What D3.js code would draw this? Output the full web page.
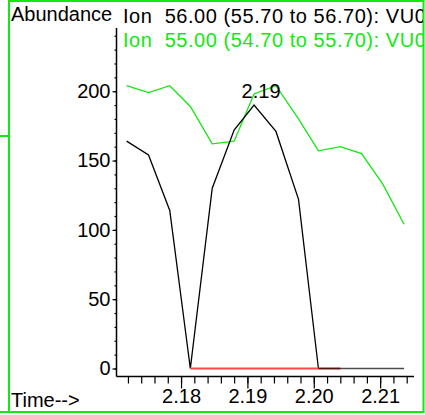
<!DOCTYPE html>
<html><head><meta charset="utf-8">
<script src="https://cdn.jsdelivr.net/npm/d3@7"></script>
<style>
html,body{margin:0;padding:0;background:#fff;overflow:hidden}
svg{display:block;font-family:"Liberation Sans",Arial,sans-serif}
</style></head><body>
<svg id="chart" width="425" height="415"></svg>
<script>
// Extracted ion chromatogram data (retention time in minutes)
const scanTimes = [2.1718, 2.1751, 2.1783, 2.1814, 2.1847, 2.1880, 2.1910, 2.1943, 2.1977, 2.2007, 2.2040, 2.2072, 2.2104, 2.2136];
const ion56 = [164, 154, 114, 0, 130, 172, 190, 171, 122, 0, 0, 0, 0, 0];
const ion55 = [204, 199, 204, 189, 162, 164, 198, 204, 180, 157, 160, 155, 133, 104];
const traceTitles = ["Ion  56.00 (55.70 to 56.70): VU0", "Ion  55.00 (54.70 to 55.70): VU0"];
const yTicks = [0, 50, 100, 150, 200];
const xTickLabels = ["2.18", "2.19", "2.20", "2.21"];
const peakIndex = 6;           // apex of the integrated peak on ion 56
const baselineIdx = [3, 10];   // integration baseline start / end scans

const svg = d3.select("#chart");
const GREEN = "#12e812";
const FONT = 20;

const x = d3.scaleLinear().domain([2.1702, 2.2151]).range([116, 414]);
const y = d3.scaleLinear().domain([0, 245.6]).range([368.5, 28]);
const axisY = 376.5, axisX = 116.5;

// outer frame
const frame = svg.append("g").attr("stroke", GREEN).attr("stroke-width", 2).attr("fill", "none");
frame.append("path").attr("d", "M9,412 V1 H423.5 V412 H9");
frame.append("line").attr("x1", 0).attr("x2", 9).attr("y1", 136).attr("y2", 136);
frame.append("line").attr("x1", 0).attr("x2", 9).attr("y1", 412).attr("y2", 412);

// y axis
const yMinor = svg.append("g").attr("transform", `translate(${axisX},0)`)
  .call(d3.axisLeft(y).tickValues(d3.range(0, 241, 10)).tickSize(2).tickFormat(""));
const yMajor = svg.append("g").attr("transform", `translate(${axisX},0)`)
  .call(d3.axisLeft(y).tickValues(yTicks).tickSize(4).tickPadding(2).tickFormat(d3.format("d")));
[yMinor, yMajor].forEach(g => g.select(".domain").remove());
yMajor.selectAll("text").attr("font-size", FONT).attr("font-family", "Liberation Sans, Arial").attr("fill", "#000");

// x axis
const xMinor = svg.append("g").attr("transform", `translate(0,${axisY})`)
  .call(d3.axisBottom(x).tickValues(d3.range(2.172, 2.2145, 0.002)).tickSize(7).tickFormat(""));
const xMajor = svg.append("g").attr("transform", `translate(0,${axisY})`)
  .call(d3.axisBottom(x).tickValues(xTickLabels.map(Number)).tickSize(12).tickPadding(4)
    .tickFormat((d, i) => xTickLabels[i]));
[xMinor, xMajor].forEach(g => g.select(".domain").remove());
xMajor.selectAll("text").attr("font-size", FONT).attr("font-family", "Liberation Sans, Arial").attr("fill", "#000")
  .attr("dy", "0.5em");
svg.selectAll(".tick line").attr("stroke", "#000").attr("stroke-width", 1.2);

// axis lines
svg.append("line").attr("x1", axisX).attr("x2", axisX).attr("y1", 28).attr("y2", axisY)
  .attr("stroke", "#000").attr("stroke-width", 1.5);
svg.append("line").attr("x1", axisX).attr("x2", 414).attr("y1", axisY).attr("y2", axisY)
  .attr("stroke", "#000").attr("stroke-width", 1.5);

// traces
const line = d3.line().x(d => x(d[0])).y(d => y(d[1]));
const pts56 = scanTimes.map((t, i) => [t, ion56[i]]);
const pts55 = scanTimes.map((t, i) => [t, ion55[i]]);

svg.append("path").attr("d", line(pts55)).attr("fill", "none").attr("stroke", GREEN).attr("stroke-width", 1.3);
svg.append("path").attr("d", line(pts56.slice(0, baselineIdx[1]))).attr("fill", "none")
  .attr("stroke", "#000").attr("stroke-width", 1.3);

// integration baseline
svg.append("path").attr("d", line([pts56[baselineIdx[0]], pts56[baselineIdx[1]]]))
  .attr("fill", "none").attr("stroke", "#ff4545").attr("stroke-width", 1.8);
svg.append("path").attr("d", line(pts56.slice(baselineIdx[1] - 1))).attr("fill", "none")
  .attr("stroke", "#000").attr("stroke-width", 1.3).attr("stroke-opacity", 0.7);

// peak retention-time label
svg.append("text").attr("x", x(scanTimes[peakIndex]) + 7).attr("y", y(ion56[peakIndex]) - 7)
  .attr("text-anchor", "middle").attr("font-size", FONT).attr("fill", "#000")
  .text(scanTimes[peakIndex].toFixed(2));

// titles
svg.append("text").attr("x", 11).attr("y", 21).attr("font-size", FONT).attr("fill", "#000").text("Abundance");
svg.append("clipPath").attr("id", "clipT").append("rect").attr("x", 0).attr("y", 0).attr("width", 423).attr("height", 60);
const titles = svg.append("g").attr("clip-path", "url(#clipT)");
titles.append("text").attr("x", 123).attr("y", 22.5).attr("font-size", FONT).attr("fill", "#000")
  .attr("letter-spacing", 0.55)
  .attr("xml:space", "preserve").style("white-space", "pre").text(traceTitles[0]);
titles.append("text").attr("x", 123).attr("y", 46.5).attr("font-size", FONT).attr("fill", GREEN)
  .attr("letter-spacing", 0.55)
  .attr("xml:space", "preserve").style("white-space", "pre").text(traceTitles[1]);

svg.append("text").attr("x", 11).attr("y", 406.5).attr("font-size", FONT).attr("fill", "#000").text("Time-->");
</script>
</body></html>
